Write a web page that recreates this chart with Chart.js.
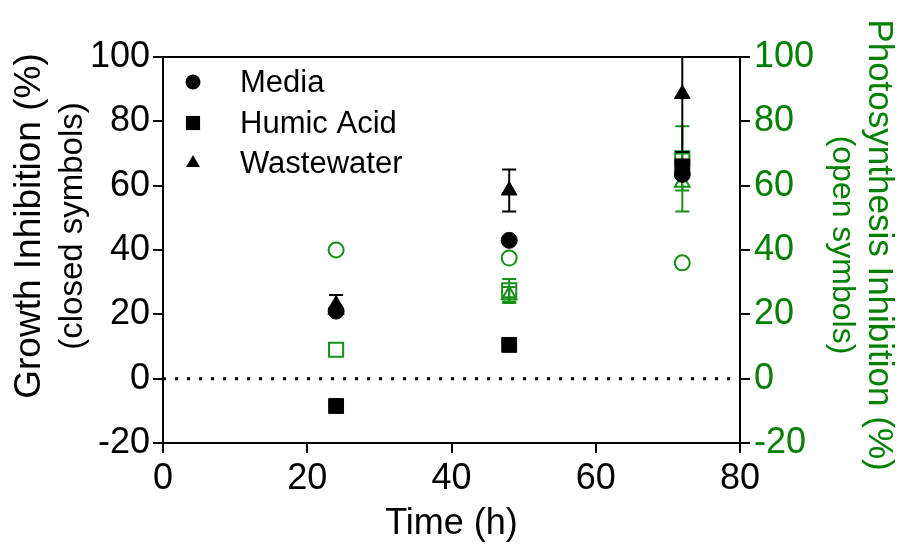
<!DOCTYPE html>
<html>
<head>
<meta charset="utf-8">
<script src="https://cdn.jsdelivr.net/npm/chart.js@4.4.1/dist/chart.umd.min.js"></script>
<style>
  html, body { margin: 0; padding: 0; background: #fff; }
</style>
</head>
<body>
<canvas id="c" width="906" height="547"></canvas>
<script>
  // ── Data ────────────────────────────────────────────────────────────────
  const TIMES = [24, 48, 72];
  const X_TICKS = [0, 20, 40, 60, 80];
  const Y_TICKS = [-20, 0, 20, 40, 60, 80, 100];
  const SERIES = ["Media", "Humic Acid", "Wastewater"];

  // growth inhibition, closed symbols, left axis
  const growthMedia = [21, 43, 63.5];
  const growthHumic = [-8.5, 10.5, 66];
  const growthWaste = [23, 58.5, 88.5];
  const growthWasteErr = [3, 6.5, 18];

  // photosynthesis inhibition, open symbols, right axis
  const photoMedia = [40, 37.5, 36];
  const photoHumic = [9, 27.5, 68.5];
  const photoHumicErr = [0, 3.5, 10];
  const photoWaste = [21.5, 26, 61];
  const photoWasteErr = [0, 2.5, 9];

  const ZERO_LINE = [0, 0];

  const FONT = '"Liberation Sans", Arial, Helvetica, sans-serif';
  const GREEN_TEXT = "#008000";
  const GREEN = "#179017";

  const pts = vals => vals.map((v, i) => ({ x: TIMES[i], y: v }));
  const STYLES = ["circle", "rect", "triangle"];
  const RADII = [8, 10.5, 9];

  function closed(i, vals, errs) {
    return {
      label: SERIES[i], data: pts(vals), errors: errs, yAxisID: "y", order: 1,
      showLine: false, pointStyle: STYLES[i], pointRadius: RADII[i], pointHoverRadius: RADII[i],
      backgroundColor: "#000", borderColor: "#000", pointBorderWidth: 1
    };
  }
  function open(i, vals, errs) {
    return {
      label: SERIES[i] + " (photo)", data: pts(vals), errors: errs, yAxisID: "y2", order: 2,
      showLine: false, pointStyle: STYLES[i], pointRadius: RADII[i] - 0.5, pointHoverRadius: RADII[i] - 0.5,
      backgroundColor: "rgba(0,0,0,0)", borderColor: GREEN, pointBorderWidth: 2
    };
  }

  // ── Error bars, drawn under each dataset's symbols ──────────────────────
  const errorBars = {
    id: "errorBars",
    beforeDatasetDraw(chart, args) {
      const ds = chart.data.datasets[args.index];
      if (!ds.errors) return;
      const ctx = chart.ctx, a = chart.chartArea, ys = chart.scales[ds.yAxisID];
      ctx.save();
      ctx.beginPath();
      ctx.rect(a.left, a.top, a.right - a.left, a.bottom - a.top);
      ctx.clip();
      ctx.strokeStyle = ds.borderColor;
      ctx.lineWidth = 2;
      args.meta.data.forEach((pt, i) => {
        const e = ds.errors[i];
        if (!e) return;
        const v = ds.data[i].y;
        const y1 = ys.getPixelForValue(v + e), y2 = ys.getPixelForValue(v - e);
        ctx.beginPath();
        ctx.moveTo(pt.x, y1); ctx.lineTo(pt.x, y2);
        ctx.moveTo(pt.x - 7, y1); ctx.lineTo(pt.x + 7, y1);
        ctx.moveTo(pt.x - 7, y2); ctx.lineTo(pt.x + 7, y2);
        ctx.stroke();
      });
      ctx.restore();
    }
  };

  // ── Frame top, axis titles and legend ───────────────────────────────────
  const decorations = {
    id: "decorations",
    afterDraw(chart) {
      const ctx = chart.ctx, a = chart.chartArea;
      ctx.save();
      ctx.strokeStyle = "#000"; ctx.lineWidth = 2;
      ctx.beginPath(); ctx.moveTo(a.left - 1, a.top); ctx.lineTo(a.right + 1, a.top); ctx.stroke();

      ctx.textAlign = "center"; ctx.textBaseline = "middle";
      ctx.fillStyle = "#000";
      ctx.font = "36px " + FONT;
      ctx.fillText("Time (h)", (a.left + a.right) / 2, 524);

      ctx.save();
      ctx.translate(30, 226); ctx.rotate(-Math.PI / 2);
      ctx.font = "37px " + FONT;
      ctx.fillText("Growth Inhibition (%)", 0, 0);
      ctx.font = "33px " + FONT;
      ctx.fillText("(closed symbols)", 0, 43);
      ctx.restore();

      ctx.save();
      ctx.fillStyle = GREEN_TEXT;
      ctx.translate(879, 245); ctx.rotate(Math.PI / 2);
      ctx.font = "35px " + FONT;
      ctx.fillText("Photosynthesis Inhibition (%)", 0, 0);
      ctx.font = "32px " + FONT;
      ctx.fillText("(open symbols)", 0, 37);
      ctx.restore();

      // legend
      const rows = [82, 123, 163];
      const legR = [7.5, 10, 8];
      ctx.textAlign = "left";
      ctx.font = "31px " + FONT;
      SERIES.forEach((name, i) => {
        ctx.fillStyle = "#000"; ctx.strokeStyle = "#000";
        Chart.helpers.drawPoint(ctx, { pointStyle: STYLES[i], rotation: 0, radius: legR[i], borderWidth: 0 }, 193, rows[i]);
        ctx.fillText(name, 240, rows[i] + 1);
      });
      ctx.restore();
    }
  };

  const tickFont = { size: 36, family: FONT };

  new Chart(document.getElementById("c"), {
    type: "line",
    data: {
      datasets: [
        closed(0, growthMedia, null),
        closed(1, growthHumic, null),
        closed(2, growthWaste, growthWasteErr),
        open(0, photoMedia, null),
        open(1, photoHumic, photoHumicErr),
        open(2, photoWaste, photoWasteErr),
        {
          label: "zero", data: [{ x: X_TICKS[0], y: ZERO_LINE[0] }, { x: X_TICKS[X_TICKS.length - 1], y: ZERO_LINE[1] }],
          yAxisID: "y", order: 3, borderColor: "#000", borderWidth: 3, borderDash: [3, 9],
          pointRadius: 0, fill: false
        }
      ]
    },
    options: {
      responsive: false, animation: false, devicePixelRatio: 1,
      layout: { padding: { top: 57, left: 0, right: 0, bottom: 0 } },
      plugins: { legend: { display: false }, tooltip: { enabled: false } },
      scales: {
        x: {
          type: "linear", min: 0, max: 80,
          afterBuildTicks: s => { s.ticks = X_TICKS.map(v => ({ value: v })); },
          afterFit: s => { s.height = 104; },
          ticks: { color: "#000", font: tickFont, padding: 4, maxRotation: 0 },
          grid: { drawOnChartArea: false, color: "#000", lineWidth: 2, tickLength: 10 },
          border: { color: "#000", width: 2 }
        },
        y: {
          type: "linear", position: "left", min: -20, max: 100,
          afterBuildTicks: s => { s.ticks = Y_TICKS.map(v => ({ value: v })); },
          afterFit: s => { s.width = 163; },
          ticks: { color: "#000", font: tickFont, padding: 3 },
          grid: { drawOnChartArea: false, color: "#000", lineWidth: 2, tickLength: 10 },
          border: { color: "#000", width: 2 }
        },
        y2: {
          type: "linear", position: "right", min: -20, max: 100,
          afterBuildTicks: s => { s.ticks = Y_TICKS.map(v => ({ value: v })); },
          afterFit: s => { s.width = 166; },
          ticks: { color: GREEN_TEXT, font: tickFont, padding: 4 },
          grid: { drawOnChartArea: false, color: "#000", lineWidth: 2, tickLength: 10 },
          border: { color: "#000", width: 2 }
        }
      }
    },
    plugins: [errorBars, decorations]
  });
</script>
</body>
</html>
